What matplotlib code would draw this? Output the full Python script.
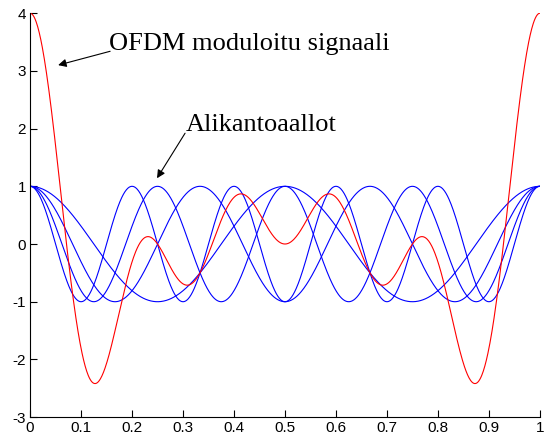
import numpy as np
import matplotlib.pyplot as plt

plt.rcParams['axes.unicode_minus'] = False

# subcarrier indices (cycles per symbol) and amplitude
subcarriers = [2, 3, 4, 5]
amplitude = 1.0
n_samples = 1001

x_ticks = [0, 0.1, 0.2, 0.3, 0.4, 0.5, 0.6, 0.7, 0.8, 0.9, 1]
x_labels = ['0', '0.1', '0.2', '0.3', '0.4', '0.5', '0.6', '0.7', '0.8', '0.9', '1']
y_ticks = [-3, -2, -1, 0, 1, 2, 3, 4]

label_signal = 'OFDM moduloitu signaali'
label_carriers = 'Alikantoaallot'

t = np.linspace(0, 1, n_samples)
carriers = [amplitude * np.cos(2 * np.pi * k * t) for k in subcarriers]
signal = np.sum(carriers, axis=0)

fig = plt.figure(figsize=(5.47, 4.40), dpi=100)
ax = fig.add_axes([0.055, 0.052, 0.932, 0.918])

for c in carriers:
    ax.plot(t, c, color='#0000ff', lw=0.8)
ax.plot(t, signal, color='#ff0000', lw=0.8)

ax.set_xlim(0, 1)
ax.set_ylim(-3, 4)
ax.set_xticks(x_ticks)
ax.set_xticklabels(x_labels)
ax.set_yticks(y_ticks)
ax.tick_params(direction='in', length=5, width=0.8, labelsize=11, pad=3)
for lab in ax.get_xticklabels() + ax.get_yticklabels():
    lab.set_family('Liberation Sans')
ax.spines['top'].set_visible(False)
ax.spines['right'].set_visible(False)

arrow = dict(arrowstyle='-|>', color='black', lw=0.8, mutation_scale=12, shrinkA=0, shrinkB=0)
txt = dict(fontsize=19, family='Liberation Serif', va='center', ha='left')

ax.text(0.155, 3.46, label_signal, **txt)
ax.annotate('', xy=(0.055, 3.10), xytext=(0.157, 3.34), arrowprops=arrow)

ax.text(0.306, 2.06, label_carriers, **txt)
ax.annotate('', xy=(0.249, 1.14), xytext=(0.304, 1.92), arrowprops=arrow)

fig.savefig('out.png', dpi=100)
